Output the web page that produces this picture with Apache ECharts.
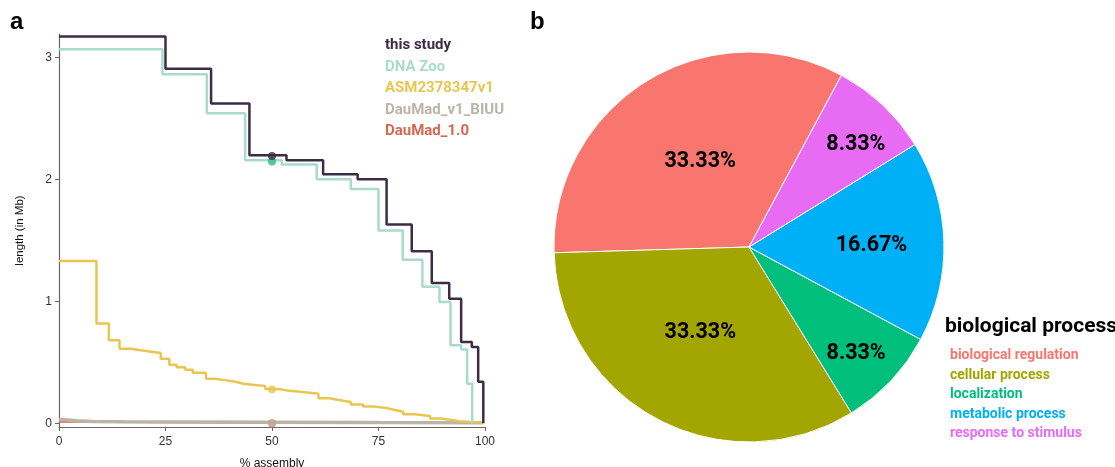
<!DOCTYPE html>
<html><head><meta charset="utf-8">
<script src="https://cdn.jsdelivr.net/npm/echarts@6/dist/echarts.min.js"></script>
<style>html,body{margin:0;padding:0;background:#fff}#c{width:1115px;height:467px}</style>
</head><body><div id="c"></div>
<script>
// ---------- Panel a: step curves (x = % assembly, y = length in Mb) ----------
const seriesNames = ['this study', 'DNA Zoo', 'ASM2378347v1', 'DauMad_v1_BIUU', 'DauMad_1.0'];

const thisStudyX = [0, 25.0, 35.7, 44.7, 53.4, 62.0, 70.1, 76.9, 82.8, 87.5, 91.6, 94.4, 96.9, 98.4, 99.6];
const thisStudyY = [3.17, 2.905, 2.62, 2.197, 2.156, 2.04, 2.0, 1.63, 1.41, 1.15, 1.02, 0.666, 0.625, 0.34, 0];

const dnaZooX = [0, 24.3, 34.7, 43.7, 52.3, 60.5, 68.5, 75.0, 80.7, 85.3, 89.3, 91.9, 94.4, 95.8, 97.0];
const dnaZooY = [3.066, 2.86, 2.54, 2.156, 2.12, 2.0, 1.92, 1.58, 1.34, 1.12, 0.994, 0.64, 0.604, 0.325, 0];

const asmX = [0, 8.8, 11.7, 14.2, 16.9, 19.2, 21.6, 23.9, 25.9, 27.6, 29.6, 31.4, 34.5, 36.5, 39.4, 41.7, 43.3, 46.0, 48.4, 51.5, 53.5, 56.6, 60.9, 63.5, 66.0, 68.5, 71.4, 74.0, 76.9, 78.8, 80.8, 83.5, 87.1, 89.5, 91.8, 94.0, 96.5, 99.2];
const asmY = [1.33, 0.817, 0.68, 0.612, 0.598, 0.587, 0.576, 0.53, 0.48, 0.46, 0.44, 0.415, 0.366, 0.352, 0.339, 0.325, 0.314, 0.305, 0.282, 0.27, 0.258, 0.243, 0.205, 0.19, 0.175, 0.155, 0.137, 0.125, 0.11, 0.095, 0.075, 0.06, 0.04, 0.03, 0.018, 0.012, 0.006, 0];

const biuuX = [0, 1.5, 4, 8, 15, 30, 50, 75, 99.5];
const biuuY = [0.03, 0.022, 0.016, 0.012, 0.01, 0.008, 0.006, 0.005, 0];

const dauMadX = [0, 2, 60.5];
const dauMadY = [0.012, 0.003, 0];

// values at 50 % assembly (N50 points)
const n50X = [50, 50, 50, 50, 50];
const n50Y = [2.19, 2.145, 0.277, 0.0, 0.0];

const xTicks = [0, 25, 50, 75, 100];
const yTicks = [0, 1, 2, 3];

// ---------- Panel b: pie ----------
const pieCategories = ['biological regulation', 'cellular process', 'localization', 'metabolic process', 'response to stimulus'];
const pieValues = [4, 4, 1, 2, 1];
const pieTitle = 'biological process';

// ---------- styling ----------
const lineColors = ['#3b2d47', '#a8dcc9', '#e9c64f', '#bcb4a6', '#d4674f'];
const dotColors = ['#3b2d47', '#2dbd80', '#e9c64f', '#bcb4a6', '#d4674f'];
const pieColors = ['#F8766D', '#A3A500', '#00BF7D', '#00B0F6', '#E76BF3'];
const boldFont = "Roboto,'Liberation Sans',sans-serif";
const helv = "'Liberation Sans',Helvetica,Arial,sans-serif";

function zip(xs, ys) { return xs.map((x, i) => [x, ys[i]]); }
const lineData = [zip(thisStudyX, thisStudyY), zip(dnaZooX, dnaZooY), zip(asmX, asmY), zip(biuuX, biuuY), zip(dauMadX, dauMadY)];
const widths = [2.5, 2.5, 2.5, 3.5, 2];

// draw order: red, grey, yellow, green, black (black on top)
const drawOrder = [4, 3, 2, 1, 0];
const series = [];
drawOrder.forEach(i => {
  series.push({
    type: 'line', name: seriesNames[i], step: 'end', data: lineData[i],
    showSymbol: false, symbol: 'none', silent: true,
    lineStyle: { color: lineColors[i], width: widths[i] },
    itemStyle: { color: lineColors[i] }, z: 2 + (4 - i)
  });
});
drawOrder.forEach(i => {
  series.push({
    type: 'scatter', name: seriesNames[i], data: [[n50X[i], n50Y[i]]],
    symbolSize: 8, itemStyle: { color: dotColors[i] }, z: 10 + (4 - i), silent: true
  });
});

// pie label offsets (placement only)
const pieLabelOffsets = [[4, 0], [-1, -3], [34, 38], [22, 2], [38, -29]];
series.push({
  type: 'pie', name: pieTitle, center: [749, 247], radius: 195,
  startAngle: 61.7, clockwise: false, silent: true,
  itemStyle: { borderColor: '#fff', borderWidth: 1 },
  label: { position: 'inside', fontFamily: boldFont, fontWeight: 'bold', fontSize: 21.5, color: '#000',
    formatter: p => (p.value / pieValues.reduce((a, b) => a + b, 0) * 100).toFixed(2) + '%' },
  labelLine: { show: false },
  data: pieCategories.map((c, i) => ({ name: c, value: pieValues[i], itemStyle: { color: pieColors[i] },
    label: { offset: pieLabelOffsets[i] } }))
});

const option = {
  animation: false,
  backgroundColor: '#fff',
  title: [
    { text: 'a', left: 10, top: 10, padding: 0, textStyle: { fontFamily: helv, fontWeight: 'bold', fontSize: 24, color: '#000' } },
    { text: 'b', left: 530, top: 10, padding: 0, textStyle: { fontFamily: helv, fontWeight: 'bold', fontSize: 24, color: '#000' } },
    { text: pieTitle, left: 945, top: 316, padding: 0, textStyle: { fontFamily: boldFont, fontWeight: 'bold', fontSize: 21, color: '#000' } }
  ],
  legend: [
    { orient: 'vertical', left: 380, top: 38, padding: 0, icon: 'none', itemWidth: 0, itemHeight: 15, itemGap: 6.5,
      selectedMode: false,
      data: seriesNames.map((n, i) => ({ name: n, textStyle: { color: lineColors[i] } })),
      textStyle: { fontFamily: boldFont, fontWeight: 'bold', fontSize: 15, padding: 0 } },
    { orient: 'vertical', left: 945, top: 348.5, padding: 0, icon: 'none', itemWidth: 0, itemHeight: 14, itemGap: 5.5,
      selectedMode: false,
      data: pieCategories.map((n, i) => ({ name: n, textStyle: { color: pieColors[i] } })),
      textStyle: { fontFamily: boldFont, fontWeight: 'bold', fontSize: 14, padding: 0 } }
  ],
  grid: { left: 59, top: 34, width: 426, height: 393, containLabel: false, outerBoundsMode: 'none' },
  xAxis: {
    type: 'value', min: 0, max: 100,
    name: '% assembly', nameLocation: 'middle', nameGap: 31,
    nameTextStyle: { fontFamily: helv, fontSize: 12, color: '#111' },
    axisLine: { onZero: false, lineStyle: { color: '#666', width: 1.2 } },
    axisTick: { show: true, length: 4, lineStyle: { color: '#666' }, customValues: xTicks },
    axisLabel: { fontFamily: helv, fontSize: 12, color: '#333', margin: 9, customValues: xTicks },
    splitLine: { show: false }
  },
  yAxis: {
    type: 'value', min: -0.03, max: 3.19,
    name: 'length (in Mb)', nameLocation: 'middle', nameGap: 33, nameRotate: 90,
    nameTextStyle: { fontFamily: helv, fontSize: 11.5, color: '#111' },
    axisLine: { show: true, onZero: false, lineStyle: { color: '#666', width: 1.2 } },
    axisTick: { show: true, length: 4, lineStyle: { color: '#666' }, customValues: yTicks },
    axisLabel: { fontFamily: helv, fontSize: 12, color: '#333', margin: 7, customValues: yTicks },
    splitLine: { show: false }
  },
  series: series
};
const chart = echarts.init(document.getElementById('c'), null, { renderer: 'canvas' });
chart.setOption(option);
</script></body></html>
